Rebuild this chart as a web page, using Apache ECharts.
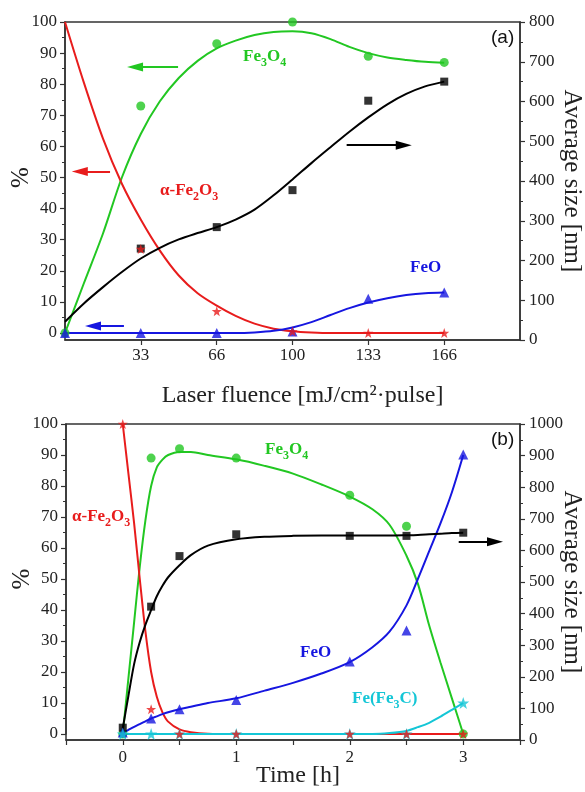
<!DOCTYPE html>
<html>
<head>
<meta charset="utf-8">
<script src="https://cdn.jsdelivr.net/npm/echarts@6/dist/echarts.min.js"></script>
<style>
  html, body { margin: 0; padding: 0; background: #fff; }
  #chart { width: 585px; height: 792px; }
</style>
</head>
<body>
<div id="chart"></div>
<script>
// ---- (a) phase fractions and mean size versus laser fluence ----
const fluence = [0, 33.3, 66.7, 100, 133.3, 166.7];
const fluenceTicks = [33.3, 66.7, 100, 133.3, 166.7];
const fluenceLabels = ['33', '66', '100', '133', '166'];
const magnetiteA = [0, 73, 93, 100, 89, 87];
const hematiteA = [null, 27, 7, 0.5, 0, 0];
const wustiteA = [0, 0, 0, 0.5, 11, 13];
const sizeA = [null, 230, 284, 377, 602, 650];

// fitted trends for (a)
const fitFluence = [0, 8.3, 16.7, 25, 33.3, 41.7, 50, 58.3, 66.7, 75, 83.3, 91.7, 100, 108.3, 116.7, 125, 133.3, 141.7, 150, 158.3, 166.7];
const magnetiteFitA = [0, 16, 32, 50, 64, 74.5, 82, 87.5, 91.5, 94, 95.8, 96.8, 97, 96.4, 94.5, 92, 90, 88.6, 87.8, 87.2, 86.9];
const hematiteFitA = [100, 80.5, 62.5, 48, 36.5, 26.5, 18.5, 12.8, 8.8, 5.5, 3, 1.4, 0.6, 0.2, 0, 0, 0, 0, 0, 0, 0];
const wustiteFitA = [0, 0, 0, 0, 0, 0, 0, 0, 0, 0, 0.2, 0.7, 1.8, 3.5, 5.8, 8, 9.8, 11.2, 12.2, 12.8, 13];
const sizeFitA = [46, 92, 133, 171, 205, 232, 253, 269, 284, 303, 328, 364, 404, 445, 485, 524, 560, 593, 619, 638, 650];

// ---- (b) phase fractions and mean size versus time ----
const time = [0, 0.25, 0.5, 1, 2, 2.5, 3];
const timeTicks = [0, 1, 2, 3];
const magnetiteB = [0, 89, 92, 89, 77, 67, 0];
const hematiteB = [100, 8, 0, 0, 0, 0, 0];
const wustiteB = [0.5, 5, 8, 11, 23.4, 33.4, 90.2];
const ironB = [0, 0, 0, 0, 0, 0, 10];
const sizeB = [39, 422, 582, 651, 646, 646, 656];

// fitted trends for (b)
const fitTime = [0, 0.05, 0.1, 0.15, 0.2, 0.25, 0.3, 0.35, 0.4, 0.5, 0.6, 0.75, 1, 1.25, 1.5, 1.75, 2, 2.2, 2.35, 2.5, 2.6, 2.7, 2.8, 2.9, 3];
const magnetiteFitB = [0, 18, 36, 54, 69, 80, 86, 88.5, 90, 91, 91, 90, 88.6, 86.5, 84, 80.5, 76.6, 72.5, 67.5, 57.5, 48.5, 35, 23, 11.5, 0];
const hematiteFitB = [100, 84, 68, 50, 33, 20, 12, 7, 4, 1.5, 0.6, 0.1, 0, 0, 0, 0, 0, 0, 0, 0, 0, 0, 0, 0, 0];
const wustiteFitB = [0.3, 1.3, 2.3, 3.2, 4.1, 5, 5.7, 6.4, 7, 8, 8.8, 10, 11.5, 14, 16.5, 19.5, 23.2, 28, 33, 41.5, 50, 59, 68, 78, 90];
const ironFitB = [0, 0, 0, 0, 0, 0, 0, 0, 0, 0, 0, 0, 0, 0, 0, 0, 0, 0, 0.3, 1, 2.2, 3.6, 5.6, 7.8, 10];
const sizeFitB = [37, 140, 240, 310, 365, 411, 455, 488, 515, 553, 585, 615, 635, 643, 646, 647, 647, 647, 647, 648, 649, 651, 653, 655, 656];

const SERIF = "'Liberation Serif', 'Times New Roman', serif";
const SANS = "'Liberation Sans', Arial, sans-serif";
const AXIS = '#333';
const GREEN = '#22c722';
const RED = '#e81c1c';
const BLUE = '#1616e0';
const CYAN = '#14c6d6';
const BLACK = '#000';
const STAR = 'path://M0,-10L2.35,-3.24L9.51,-3.09L3.8,1.24L5.88,8.09L0,4L-5.88,8.09L-3.8,1.24L-9.51,-3.09L-2.35,-3.24Z';

const pairs = (xs, ys) => xs.map((x, i) => [x, ys[i]]).filter(p => p[1] != null);

function fitLine(xs, ys, color, xi, yi, extra) {
  return Object.assign({
    type: 'line', xAxisIndex: xi, yAxisIndex: yi, data: pairs(xs, ys),
    showSymbol: false, smooth: 0.3, clip: false, silent: true,
    lineStyle: { color: color, width: 2 }, itemStyle: { color: color }, z: 2
  }, extra || {});
}
function markers(xs, ys, color, symbol, size, xi, yi) {
  return {
    type: 'scatter', xAxisIndex: xi, yAxisIndex: yi, data: pairs(xs, ys),
    symbol: symbol, symbolSize: size, clip: false, silent: true,
    itemStyle: { color: color }, z: 3
  };
}
function arrow(color, from, to) {
  return {
    silent: true, animation: false,
    symbol: ['none', 'triangle'], symbolSize: [9, 16],
    lineStyle: { color: color, width: 2, type: 'solid' },
    label: { show: false },
    data: [[{ coord: from }, { coord: to }]]
  };
}

const titleStyle = { fontFamily: SERIF, fontSize: 24, color: '#222' };
const sideTitleStyle = { fontFamily: SERIF, fontSize: 25, color: '#222' };

function leftAxis(grid) {
  return {
    type: 'value', gridIndex: grid, position: 'left', min: 0, max: 100, interval: 10,
    axisLine: { show: true, onZero: false, lineStyle: { color: AXIS, width: 1.5 } },
    axisTick: { show: true, length: 5, lineStyle: { color: AXIS, width: 1.2 } },
    minorTick: { show: true, splitNumber: 2, length: 3, lineStyle: { color: AXIS, width: 1 } },
    axisLabel: { fontFamily: SERIF, fontSize: 17, color: '#222', margin: 8 },
    splitLine: { show: false },
    name: '%', nameLocation: 'middle', nameGap: 31, nameMoveOverlap: false,
    nameTextStyle: sideTitleStyle
  };
}
function rightAxis(grid, max) {
  return {
    type: 'value', gridIndex: grid, position: 'right', min: 0, max: max, interval: 100,
    axisLine: { show: true, onZero: false, lineStyle: { color: AXIS, width: 1.5 } },
    axisTick: { show: true, length: 5, lineStyle: { color: AXIS, width: 1.2 } },
    minorTick: { show: true, splitNumber: 2, length: 3, lineStyle: { color: AXIS, width: 1 } },
    axisLabel: { fontFamily: SERIF, fontSize: 17, color: '#222', margin: 9, formatter: v => String(v) },
    splitLine: { show: false },
    name: 'Average size [nm]', nameLocation: 'middle', nameGap: 39, nameRotate: -90, nameMoveOverlap: false,
    nameTextStyle: sideTitleStyle
  };
}

function chem(parts, color, x, y) {
  const m = { fontFamily: SERIF, fontWeight: 'bold', fontSize: 17, lineHeight: 20, verticalAlign: 'top', fill: color, color: color };
  const s = { fontFamily: SERIF, fontWeight: 'bold', fontSize: 12, lineHeight: 12, padding: [9, 0, 0, 0], verticalAlign: 'top', fill: color, color: color };
  const text = parts.map((p, i) => (i % 2 === 0 ? '{m|' : '{s|') + p + '}').join('');
  return {
    type: 'text', x: x, y: y, silent: true, z: 10,
    style: { text: text, rich: { m: m, s: s }, fill: color, align: 'left', verticalAlign: 'middle' }
  };
}
function panelTag(text, x, y) {
  return {
    type: 'text', x: x, y: y, silent: true, z: 10,
    style: { text: text, fontFamily: SANS, fontSize: 19, fill: '#111', align: 'left', verticalAlign: 'middle' }
  };
}

const gridBase = { containLabel: false, outerBoundsMode: 'none' };

const option = {
  animation: false,
  backgroundColor: '#fff',
  grid: [
    Object.assign({ left: 65, top: 22, width: 455, height: 311 }, gridBase),
    Object.assign({ left: 65, top: 22, width: 455, height: 318, show: true, borderColor: AXIS, borderWidth: 1.5, backgroundColor: 'transparent' }, gridBase),
    Object.assign({ left: 66, top: 424, width: 454, height: 310 }, gridBase),
    Object.assign({ left: 66, top: 424, width: 454, height: 316, show: true, borderColor: AXIS, borderWidth: 1.5, backgroundColor: 'transparent' }, gridBase)
  ],
  xAxis: [
    { type: 'value', gridIndex: 0, min: 0, max: 200, show: false },
    {
      type: 'value', gridIndex: 1, min: 0, max: 200, position: 'bottom',
      axisLine: { show: true, onZero: false, lineStyle: { color: AXIS, width: 1.5 } },
      axisTick: { show: true, customValues: fluenceTicks, length: 5, lineStyle: { color: AXIS, width: 1.2 } },
      axisLabel: {
        customValues: fluenceTicks, fontFamily: SERIF, fontSize: 17, color: '#222', margin: 7,
        formatter: v => { const i = fluenceTicks.findIndex(t => Math.abs(t - v) < 0.5); return i >= 0 ? fluenceLabels[i] : ''; }
      },
      splitLine: { show: false },
      name: 'Laser fluence [mJ/cm²·pulse]', nameLocation: 'middle', nameGap: 44, nameMoveOverlap: false,
      nameTextStyle: Object.assign({ padding: [0, 0, 0, 20] }, titleStyle)
    },
    { type: 'value', gridIndex: 2, min: -0.5, max: 3.5, show: false },
    {
      type: 'value', gridIndex: 3, min: -0.5, max: 3.5, interval: 0.5, position: 'bottom',
      axisLine: { show: true, onZero: false, lineStyle: { color: AXIS, width: 1.5 } },
      axisTick: { show: true, length: 5, lineStyle: { color: AXIS, width: 1.2 } },
      axisLabel: { customValues: timeTicks, fontFamily: SERIF, fontSize: 17, color: '#222', margin: 9 },
      splitLine: { show: false },
      name: 'Time [h]', nameLocation: 'middle', nameGap: 24, nameMoveOverlap: false,
      nameTextStyle: Object.assign({ padding: [0, 0, 0, 10] }, titleStyle)
    }
  ],
  yAxis: [leftAxis(0), rightAxis(1, 800), leftAxis(2), rightAxis(3, 1000)],
  series: [
    // (a) trends
    fitLine(fitFluence, magnetiteFitA, GREEN, 0, 0, { markLine: arrow(GREEN, [49.7, 85.5], [30.8, 85.5]) }),
    fitLine(fitFluence, hematiteFitA, RED, 0, 0, { markLine: arrow(RED, [19.8, 51.9], [6.5, 51.9]) }),
    fitLine(fitFluence, wustiteFitA, BLUE, 0, 0, { markLine: arrow(BLUE, [25.9, 2.25], [12.3, 2.25]) }),
    fitLine(fitFluence, sizeFitA, BLACK, 1, 1, { markLine: arrow(BLACK, [123.8, 490], [148.9, 490]) }),
    // (a) measured points
    markers(fluence, magnetiteA, GREEN, 'circle', 9, 0, 0),
    markers(fluence, sizeA, BLACK, 'rect', 8, 1, 1),
    markers(fluence, wustiteA, BLUE, 'triangle', 10, 0, 0),
    markers(fluence, hematiteA, RED, STAR, 10, 0, 0),

    // (b) trends
    fitLine(fitTime, magnetiteFitB, GREEN, 2, 2),
    fitLine(fitTime, hematiteFitB, RED, 2, 2),
    fitLine(fitTime, ironFitB, CYAN, 2, 2),
    fitLine(fitTime, wustiteFitB, BLUE, 2, 2),
    fitLine(fitTime, sizeFitB, BLACK, 3, 3, { markLine: arrow(BLACK, [2.96, 627], [3.28, 627]) }),
    // (b) measured points
    markers(time, magnetiteB, GREEN, 'circle', 9, 2, 2),
    markers(time, sizeB, BLACK, 'rect', 8, 3, 3),
    markers(time, wustiteB, BLUE, 'triangle', 10, 2, 2),
    markers(time, ironB, CYAN, STAR, 12, 2, 2),
    markers(time, hematiteB, RED, STAR, 10, 2, 2)
  ],
  graphic: [
    chem(['Fe', '3', 'O', '4'], GREEN, 243, 58),
    chem(['α-Fe', '2', 'O', '3'], RED, 160, 192),
    chem(['FeO'], BLUE, 410, 269),
    panelTag('(a)', 491, 38),
    chem(['Fe', '3', 'O', '4'], GREEN, 265, 451),
    chem(['α-Fe', '2', 'O', '3'], RED, 72, 518),
    chem(['FeO'], BLUE, 300, 654),
    chem(['Fe(Fe', '3', 'C)'], CYAN, 352, 700),
    panelTag('(b)', 491, 440)
  ]
};

const chart = echarts.init(document.getElementById('chart'), null, { renderer: 'canvas' });
chart.setOption(option);
</script>
</body>
</html>
